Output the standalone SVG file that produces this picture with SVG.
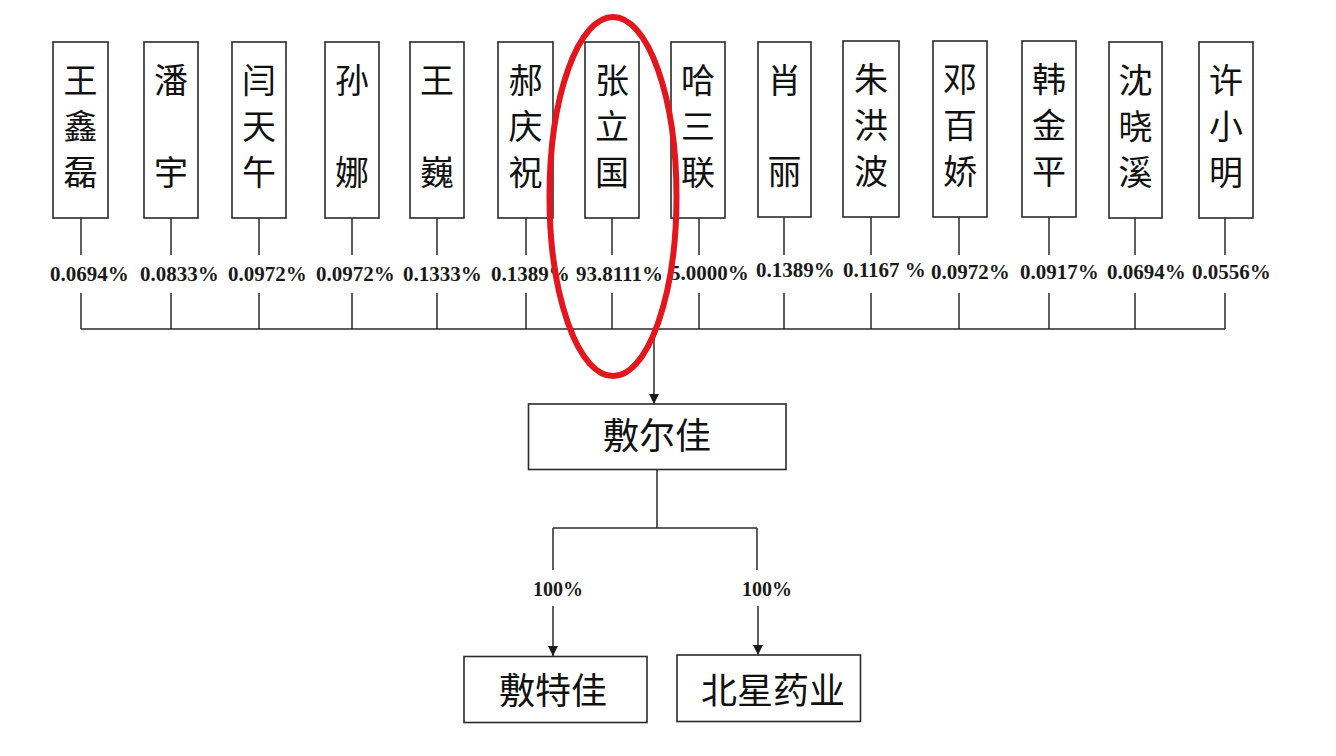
<svg xmlns="http://www.w3.org/2000/svg" width="1336" height="756" viewBox="0 0 1336 756">
<defs>
<style>
.box{fill:#fff;stroke:#2a2a2a;stroke-width:1.6}
.ln{fill:none;stroke:#2a2a2a;stroke-width:1.5}
.nm{font-family:"Noto Sans CJK SC","Noto Sans CJK TC",sans-serif;font-size:34px;fill:#111;text-anchor:middle}
.big{font-family:"Noto Sans CJK SC","Noto Sans CJK TC",sans-serif;font-size:36px;fill:#111;text-anchor:middle}
.pc{font-family:"Liberation Serif","Times New Roman",serif;font-size:21px;font-weight:bold;fill:#1a1a1a}
.pc2{font-family:"Liberation Serif","Times New Roman",serif;font-size:20px;font-weight:bold;fill:#1a1a1a;text-anchor:middle}
</style>
<marker id="arr" viewBox="0 0 10 10" refX="10" refY="5" markerWidth="10" markerHeight="10" markerUnits="userSpaceOnUse" orient="auto">
<path d="M0,0 L10,5 L0,10 Z" fill="#1a1a1a"/>
</marker>
</defs>
<rect width="1336" height="756" fill="#fff"/>

<g id="connectors">
<path class="ln" d="M81,218V255M81,293V329M171,218V255M171,293V329M259,218V255M259,293V329M352,218V255M352,293V329M437,218V255M437,293V329M526,218V255M526,293V329M612,218V255M612,293V329M699,218V255M699,293V329M784,217V255M784,293V329M871,217V255M871,293V329M959,217V255M959,293V329M1049,217V255M1049,293V329M1135,218V255M1135,293V329M1225,218V255M1225,293V329"/>
<path class="ln" d="M81,329H1225"/>
<path class="ln" d="M654,329V404" marker-end="url(#arr)"/>
<path class="ln" d="M657,470V528M553,528H757M553,528V570M757,528V570"/>
<path class="ln" d="M553,606V656" marker-end="url(#arr)"/>
<path class="ln" d="M758,606V655" marker-end="url(#arr)"/>
</g>

<g id="labels">
<text class="pc" x="50" y="281">0.0694%</text>
<text class="pc" x="140" y="281">0.0833%</text>
<text class="pc" x="228" y="281">0.0972%</text>
<text class="pc" x="316" y="281">0.0972%</text>
<text class="pc" x="403" y="281">0.1333%</text>
<text class="pc" x="491" y="281">0.1389%</text>
<text class="pc" x="576" y="281">93.8111%</text>
<text class="pc" x="670" y="280">5.0000%</text>
<text class="pc" x="756" y="277">0.1389%</text>
<text class="pc" x="843" y="277">0.1167 %</text>
<text class="pc" x="931" y="279">0.0972%</text>
<text class="pc" x="1020" y="279">0.0917%</text>
<text class="pc" x="1107" y="279">0.0694%</text>
<text class="pc" x="1192" y="279">0.0556%</text>
<text class="pc2" x="558" y="596">100%</text>
<text class="pc2" x="767" y="596">100%</text>
</g>

<g id="n1"><rect class="box" x="53" y="42" width="55" height="176"/><text class="nm"><tspan x="80.5" y="93">王</tspan><tspan x="80.5" y="139">鑫</tspan><tspan x="80.5" y="185">磊</tspan></text></g>
<g id="n2"><rect class="box" x="144" y="42" width="54" height="176"/><text class="nm"><tspan x="171" y="93">潘</tspan><tspan x="171" y="185">宇</tspan></text></g>
<g id="n3"><rect class="box" x="232" y="42" width="54" height="176"/><text class="nm"><tspan x="259" y="93">闫</tspan><tspan x="259" y="139">天</tspan><tspan x="259" y="185">午</tspan></text></g>
<g id="n4"><rect class="box" x="325" y="42" width="54" height="176"/><text class="nm"><tspan x="352" y="93">孙</tspan><tspan x="352" y="185">娜</tspan></text></g>
<g id="n5"><rect class="box" x="410" y="42" width="54" height="176"/><text class="nm"><tspan x="437" y="93">王</tspan><tspan x="437" y="185">巍</tspan></text></g>
<g id="n6"><rect class="box" x="498" y="42" width="55" height="176"/><text class="nm"><tspan x="525.5" y="93">郝</tspan><tspan x="525.5" y="139">庆</tspan><tspan x="525.5" y="185">祝</tspan></text></g>
<g id="n7"><rect class="box" x="585" y="42" width="54" height="176"/><text class="nm"><tspan x="612" y="93">张</tspan><tspan x="612" y="139">立</tspan><tspan x="612" y="185">国</tspan></text></g>
<g id="n8"><rect class="box" x="671" y="42" width="54" height="176"/><text class="nm"><tspan x="698" y="93">哈</tspan><tspan x="698" y="139">三</tspan><tspan x="698" y="185">联</tspan></text></g>
<g id="n9"><rect class="box" x="758" y="42" width="53" height="175"/><text class="nm"><tspan x="784.5" y="93">肖</tspan><tspan x="784.5" y="184">丽</tspan></text></g>
<g id="n10"><rect class="box" x="843" y="41" width="56" height="176"/><text class="nm"><tspan x="871" y="92">朱</tspan><tspan x="871" y="138">洪</tspan><tspan x="871" y="184">波</tspan></text></g>
<g id="n11"><rect class="box" x="933" y="41" width="54" height="176"/><text class="nm"><tspan x="960" y="92">邓</tspan><tspan x="960" y="138">百</tspan><tspan x="960" y="184">娇</tspan></text></g>
<g id="n12"><rect class="box" x="1022" y="41" width="54" height="176"/><text class="nm"><tspan x="1049" y="92">韩</tspan><tspan x="1049" y="138">金</tspan><tspan x="1049" y="184">平</tspan></text></g>
<g id="n13"><rect class="box" x="1109" y="42" width="53" height="176"/><text class="nm"><tspan x="1135.5" y="93">沈</tspan><tspan x="1135.5" y="139">晓</tspan><tspan x="1135.5" y="185">溪</tspan></text></g>
<g id="n14"><rect class="box" x="1199" y="42" width="54" height="176"/><text class="nm"><tspan x="1226" y="93">许</tspan><tspan x="1226" y="139">小</tspan><tspan x="1226" y="185">明</tspan></text></g>

<g id="n15"><rect class="box" x="528.5" y="404" width="257.5" height="65.5"/><text class="big" x="657" y="449">敷尔佳</text></g>
<g id="n16"><rect class="box" x="464" y="656.5" width="183" height="66"/><text class="big" x="553" y="704">敷特佳</text></g>
<g id="n17"><rect class="box" x="677" y="655" width="183.5" height="66.5"/><text class="big" x="773" y="703.5">北星药业</text></g>

<g id="highlight"><ellipse cx="613" cy="196.5" rx="63.5" ry="179.5" fill="none" stroke="#e3161d" stroke-width="6"/></g>
</svg>
